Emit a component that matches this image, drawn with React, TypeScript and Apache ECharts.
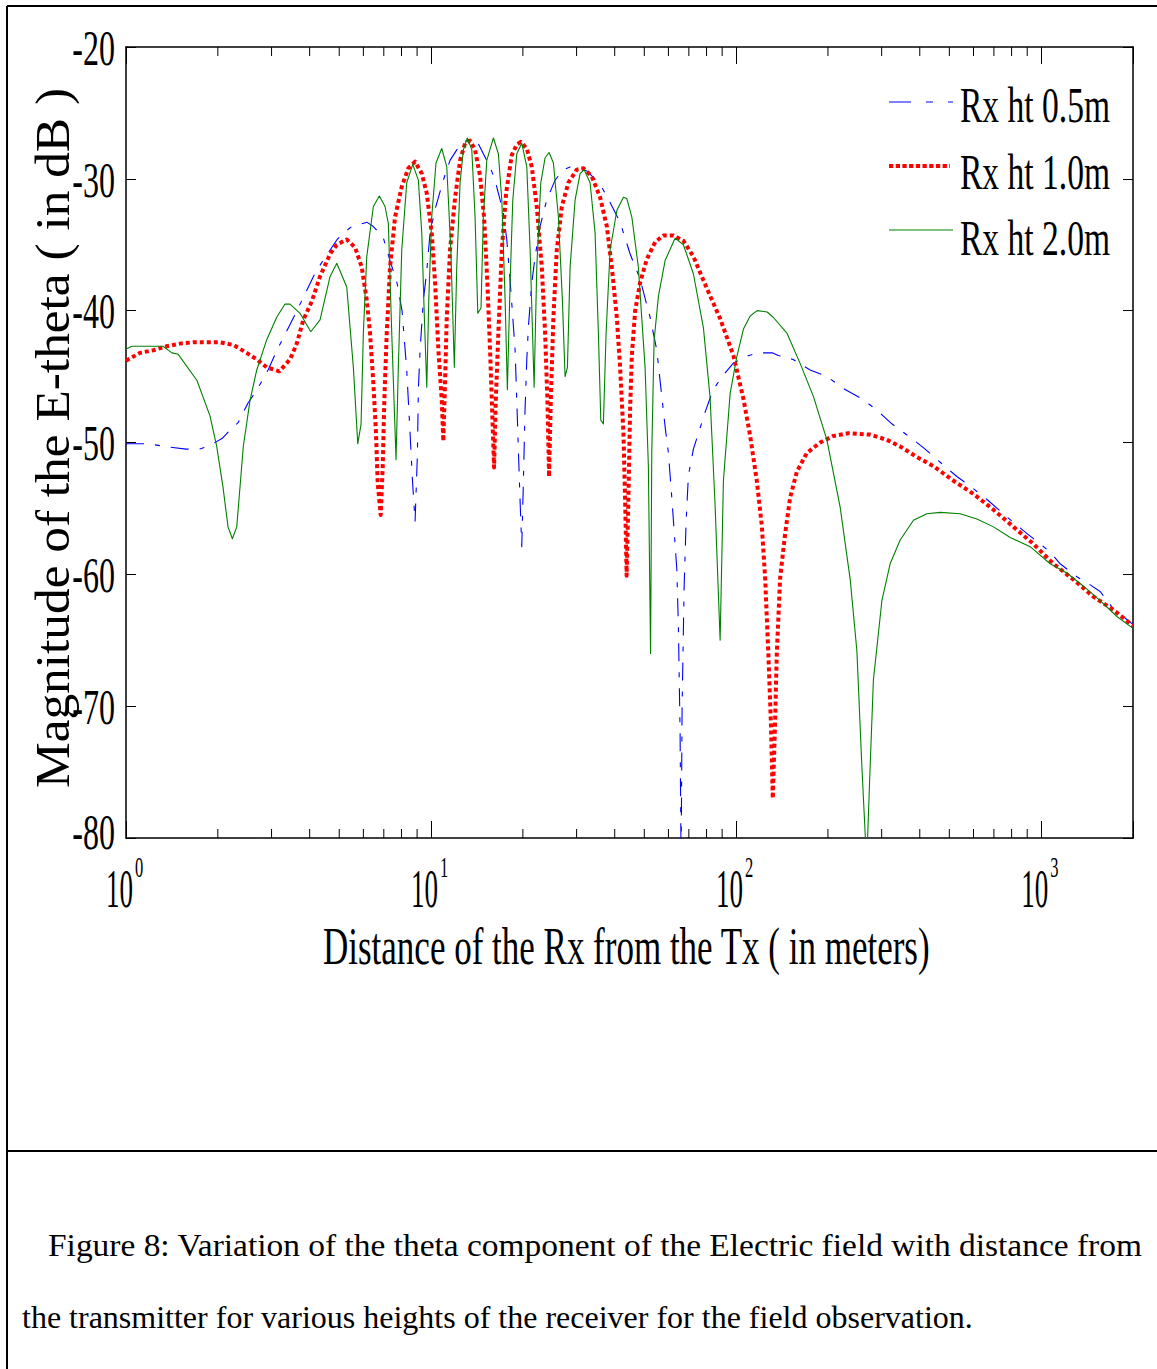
import React, { useEffect, useRef } from "react";
import * as echarts from "echarts";

// ---------- axis ranges & ticks ----------
const X_MIN = 1;
const X_MAX = 2000;
const Y_MIN = -80;
const Y_MAX = -20;
const yTickValues = [-20, -30, -40, -50, -60, -70, -80];
const xTickExponents = [0, 1, 2, 3];
const minorTickValues = [
  2, 3, 4, 5, 6, 7, 8, 9,
  20, 30, 40, 50, 60, 70, 80, 90,
  200, 300, 400, 500, 600, 700, 800, 900,
];

// ---------- texts ----------
const legendNames = ["Rx ht 0.5m", "Rx ht 1.0m", "Rx ht 2.0m"];
const xAxisTitle = "Distance of the Rx from the Tx ( in meters)";
const yAxisTitle = "Magnitude of the E-theta ( in dB )";
const captionLine1 =
  "Figure 8: Variation of the theta component of the Electric field with distance from";
const captionLine2 =
  "the transmitter for various heights of the receiver for the field observation.";

// ---------- series: [distance (m), magnitude (dB)] ----------
const rx05: number[][] = [
  [1, -50.1], [1.181, -50.1], [1.342, -50.3], [1.573, -50.5], [1.735, -50.5],
  [1.857, -50.3], [2.064, -49.7], [2.144, -49.3], [2.33, -48.5], [2.512, -47.0],
  [2.689, -46.0], [2.922, -44.5], [3.126, -43.0], [3.372, -41.5], [3.581, -40.3],
  [3.776, -39.2], [4.198, -37.0], [4.667, -35.4], [4.92, -34.6], [5.304, -33.9],
  [5.508, -33.6], [6.169, -33.3], [6.455, -33.6], [6.96, -34.4], [7.337, -36.2],
  [7.735, -37.9], [8.033, -40.0], [8.323, -44.5], [8.534, -49.3], [8.697, -53.0],
  [8.863, -56.0], [9.019, -51.0], [9.087, -46.0], [9.204, -43.0], [9.436, -39.2],
  [9.681, -37.0], [9.925, -34.1], [10.31, -32.3], [10.97, -30.1], [11.54, -28.6],
  [12.14, -27.8], [12.76, -27.2], [13.42, -27.0], [14.12, -27.1], [14.84, -28.1],
  [15.61, -29.1], [16.21, -30.1], [16.84, -31.6], [17.26, -32.6], [17.71, -34.6],
  [18.16, -37.7], [18.53, -40.5], [18.86, -43.0], [19.1, -46.8], [19.33, -50.6],
  [19.58, -54.4], [19.83, -57.9], [20.07, -53.1], [20.33, -47.5], [20.6, -43.7],
  [20.85, -41.2], [21.39, -37.9], [21.93, -35.9], [22.77, -33.6], [23.95, -31.6],
  [25.5, -30.1], [27.16, -29.3], [28.56, -29.1], [30.8, -29.2], [32.39, -29.4],
  [35.82, -30.4], [38.63, -31.8], [41.66, -33.3], [44.94, -35.7], [48.43, -37.6],
  [52.24, -40.5], [54.95, -43.0], [56.33, -45.3], [58.51, -48.8], [59.99, -50.8],
  [61.69, -54.5], [63.91, -59.6], [64.69, -64.0], [65.52, -72.0], [66.02, -82.0],
  [66.52, -70.0], [67.54, -61.0], [68.56, -56.0], [69.76, -52.5], [72.44, -50.5],
  [76.2, -48.9], [79.14, -47.7], [84.06, -46.0], [89.96, -45.0], [97.76, -44.0],
  [107.0, -43.5], [117.2, -43.2], [131.3, -43.2], [137.4, -43.4], [153.8, -43.7],
  [174.8, -44.5], [198.8, -45.0], [224.3, -45.9], [258.9, -46.7], [287.8, -47.5],
  [324.7, -48.6], [371.9, -49.6], [416.6, -50.5], [466.7, -51.5], [530.4, -52.6],
  [585.0, -53.3], [670.4, -54.4], [734.0, -55.2], [834.5, -56.3], [920.4, -57.1],
  [1070, -58.3], [1154, -59.2], [1313, -60.2], [1448, -60.8], [1561, -61.3],
  [1722, -62.6], [2000, -63.8],
];

const rx10: number[][] = [
  [1, -43.8], [1.112, -43.2], [1.229, -43.0], [1.36, -42.7], [1.503, -42.5],
  [1.658, -42.4], [1.839, -42.4], [2.033, -42.4], [2.248, -42.6], [2.487, -43.2],
  [2.683, -43.7], [2.893, -44.3], [3.181, -44.6], [3.449, -43.7], [3.628, -42.5],
  [3.814, -40.7], [4.064, -39.3], [4.326, -37.4], [4.667, -35.7], [4.909, -35.0],
  [5.292, -34.6], [5.635, -35.2], [5.927, -36.7], [6.155, -39.2], [6.31, -41.7],
  [6.469, -45.5], [6.6, -49.3], [6.685, -53.1], [6.84, -55.5], [6.944, -51.8],
  [7.028, -46.8], [7.157, -41.7], [7.337, -36.7], [7.619, -32.9], [8.015, -30.6],
  [8.424, -29.2], [8.863, -28.7], [9.322, -29.6], [9.681, -31.1], [10.05, -34.1],
  [10.31, -37.9], [10.57, -43.0], [10.84, -46.8], [10.97, -49.9], [11.11, -45.5],
  [11.26, -40.5], [11.54, -35.4], [11.99, -31.4], [12.45, -28.6], [12.93, -27.3],
  [13.42, -27.1], [13.94, -27.8], [14.48, -29.8], [14.92, -32.9], [15.3, -37.9],
  [15.61, -43.0], [15.89, -48.1], [16.09, -51.9], [16.3, -46.8], [16.62, -41.7],
  [17.06, -35.4], [17.62, -31.1], [18.39, -28.2], [19.1, -27.4], [19.68, -27.2],
  [20.6, -27.7], [21.39, -29.1], [22.21, -32.1], [23.07, -36.7], [23.65, -41.7],
  [24.07, -46.8], [24.37, -52.6], [24.69, -46.8], [25.18, -40.5], [25.83, -35.4],
  [26.83, -32.1], [28.19, -30.3], [30.04, -29.3], [31.57, -29.2], [33.64, -29.8],
  [35.82, -31.4], [37.68, -33.6], [39.13, -36.7], [40.64, -40.5], [41.66, -44.3],
  [42.72, -49.3], [43.27, -54.4], [43.76, -60.1], [44.36, -54.2], [44.94, -47.4],
  [45.52, -43.4], [46.67, -40.0], [48.43, -37.9], [50.95, -36.1], [54.26, -34.8],
  [57.76, -34.3], [62.3, -34.3], [67.18, -34.7], [72.44, -35.9], [80.15, -38.3],
  [88.63, -40.6], [97.98, -43.4], [105.7, -46.7], [111.2, -49.5], [116.9, -52.9],
  [121.4, -56.3], [124.5, -60.3], [127.6, -66.1], [130.0, -71.2], [131.9, -77.0],
  [134.2, -71.2], [135.9, -66.1], [139.4, -60.3], [144.8, -56.9], [150.3, -54.2],
  [158.2, -52.2], [170.5, -50.8], [188.6, -50.0], [208.5, -49.5], [233.0, -49.3],
  [275.0, -49.4], [312.0, -49.8], [345.0, -50.3], [391.3, -51.1], [443.7, -51.8],
  [515.8, -52.9], [599.8, -53.9], [697.8, -55.1], [811.5, -56.4], [943.5, -57.7],
  [1097, -59.2], [1276, -60.4], [1484, -61.7], [1726, -62.7], [2000, -63.9],
];

const rx20: number[][] = [
  [1, -42.9], [1.046, -42.7], [1.199, -42.7], [1.322, -42.7], [1.415, -43.2],
  [1.481, -43.3], [1.709, -45.3], [1.886, -48.0], [1.983, -50.3], [2.08, -53.4],
  [2.16, -56.4], [2.232, -57.3], [2.307, -56.4], [2.424, -50.3], [2.55, -46.8],
  [2.683, -44.5], [2.893, -42.2], [3.119, -40.5], [3.321, -39.5], [3.449, -39.5],
  [3.72, -40.2], [4.034, -41.6], [4.326, -40.7], [4.667, -37.4], [4.909, -36.4],
  [5.292, -38.2], [5.563, -44.3], [5.751, -50.1], [5.896, -48.6], [5.999, -41.7],
  [6.155, -35.9], [6.469, -32.1], [6.768, -31.3], [7.066, -32.1], [7.244, -33.4],
  [7.432, -41.7], [7.677, -51.3], [7.812, -44.3], [8.015, -35.4], [8.323, -30.3],
  [8.71, -28.9], [9.087, -30.1], [9.322, -34.1], [9.507, -40.5], [9.681, -45.8],
  [9.828, -39.2], [10.05, -32.9], [10.38, -28.8], [10.84, -27.7], [11.26, -29.1],
  [11.61, -35.4], [11.92, -44.3], [12.14, -36.7], [12.45, -30.3], [12.76, -27.8],
  [13.15, -26.9], [13.6, -27.8], [13.94, -32.9], [14.23, -40.2], [14.58, -39.8],
  [14.84, -32.9], [15.23, -28.6], [16.01, -26.9], [16.62, -28.1], [17.06, -31.6],
  [17.49, -39.2], [17.79, -46.0], [18.16, -37.9], [18.53, -31.6], [19.1, -28.1],
  [19.83, -27.3], [20.6, -29.1], [21.12, -35.4], [21.77, -45.8], [22.21, -36.7],
  [22.89, -30.3], [23.65, -28.4], [24.37, -28.0], [25.18, -28.8], [26.15, -32.9],
  [26.95, -39.2], [27.5, -45.0], [27.99, -44.3], [28.56, -36.7], [29.66, -31.6],
  [30.8, -29.6], [31.74, -29.3], [33.21, -30.3], [34.49, -34.1], [35.36, -41.7],
  [36.01, -48.3], [36.72, -48.6], [37.48, -41.7], [38.63, -35.4], [40.64, -32.4],
  [42.72, -31.4], [43.83, -31.5], [45.52, -32.9], [47.81, -36.7], [50.3, -44.3],
  [51.57, -51.8], [52.43, -66.0], [52.91, -50.8], [53.83, -42.3], [55.63, -38.9],
  [58.51, -36.2], [63.1, -34.5], [67.18, -35.0], [72.44, -37.2], [78.13, -41.3],
  [82.17, -46.6], [85.34, -54.8], [88.63, -65.0], [90.86, -52.9], [95.57, -46.3],
  [100.5, -43.5], [105.7, -41.4], [111.2, -40.4], [117.2, -40.0], [126.4, -40.1],
  [132.3, -40.5], [146.7, -41.7], [162.1, -44.0], [179.2, -46.5], [198.4, -49.8],
  [219.3, -54.9], [236.6, -60.4], [248.8, -65.8], [258.4, -74.6], [267.9, -82.0],
  [275.0, -74.6], [281.9, -68.0], [300.5, -62.0], [319.8, -59.2], [345.0, -57.4],
  [381.4, -55.9], [421.9, -55.4], [466.7, -55.3], [542.5, -55.4], [615.4, -55.8],
  [697.8, -56.4], [791.6, -57.2], [920.4, -57.9], [1070, -59.2], [1214, -59.9],
  [1376, -60.9], [1561, -62.0], [1771, -63.2], [2000, -64.1],
];

const BLUE = "#0000ff";
const RED = "#ff0000";
const GREEN = "#008000";
const BLUE_DASH = [18, 11, 5, 11];
const RED_DASH = [4, 3];
const FONT = "Liberation Serif";

export default function App() {
  const ref = useRef<HTMLDivElement>(null);

  useEffect(() => {
    const el = ref.current;
    if (!el) return;
    const chart = echarts.init(el, undefined, { renderer: "svg" });

    const canvas = document.createElement("canvas");
    const cx = canvas.getContext("2d")!;
    const measure = (t: string, size: number) => {
      cx.font = `${size}px "${FONT}"`;
      return cx.measureText(t).width;
    };

    const tickAxisX = (position: "bottom" | "top") => ({
      type: "log",
      logBase: 10,
      min: X_MIN,
      max: X_MAX,
      position,
      axisLine: { show: true, lineStyle: { color: "#000", width: 1.5 } },
      axisTick: { show: true, inside: true, length: 17, lineStyle: { color: "#000", width: 1 } },
      axisLabel: { show: false },
      splitLine: { show: false },
      minorTick: { show: false },
    });
    const tickAxisY = (position: "left" | "right") => ({
      type: "value",
      min: Y_MIN,
      max: Y_MAX,
      interval: 10,
      position,
      axisLine: { show: true, lineStyle: { color: "#000", width: 1.5 } },
      axisTick: { show: true, inside: true, length: 10, lineStyle: { color: "#000", width: 1 } },
      axisLabel: { show: false },
      splitLine: { show: false },
    });

    const lineSeries = (name: string, data: number[][], color: string, width: number, dash: any, z: number) => ({
      type: "line",
      name,
      data,
      symbol: "none",
      showSymbol: false,
      clip: true,
      silent: true,
      z,
      lineStyle: { color, width, type: dash, cap: "butt", join: "round" },
      itemStyle: { color },
    });

    chart.setOption({
      animation: false,
      backgroundColor: "#ffffff",
      grid: { left: 126, right: 24, top: 47, bottom: 531, containLabel: false },
      xAxis: [tickAxisX("bottom"), tickAxisX("top")],
      yAxis: [tickAxisY("left"), tickAxisY("right")],
      series: [
        lineSeries(legendNames[0], rx05, BLUE, 1.1, BLUE_DASH, 2),
        lineSeries(legendNames[1], rx10, RED, 4, RED_DASH, 3),
        lineSeries(legendNames[2], rx20, GREEN, 1.1, "solid", 4),
        {
          type: "custom",
          coordinateSystem: "cartesian2d",
          silent: true,
          z: 5,
          data: minorTickValues.map((v) => [v, Y_MIN]),
          renderItem: (_p: any, api: any) => {
            const v = api.value(0);
            const b = api.coord([v, Y_MIN]);
            const t = api.coord([v, Y_MAX]);
            return {
              type: "group",
              children: [
                { type: "line", shape: { x1: b[0], y1: b[1], x2: b[0], y2: b[1] - 9 }, style: { stroke: "#000", lineWidth: 1 } },
                { type: "line", shape: { x1: t[0], y1: t[1], x2: t[0], y2: t[1] + 9 }, style: { stroke: "#000", lineWidth: 1 } },
              ],
            };
          },
        },
      ],
    });

    const px = (v: number) => chart.convertToPixel({ xAxisIndex: 0 }, v) as unknown as number;
    const py = (v: number) => chart.convertToPixel({ yAxisIndex: 0 }, v) as unknown as number;

    const g: any[] = [];
    const black = "#000";

    // outer frame of the figure box
    g.push({ type: "line", shape: { x1: 7, y1: 6, x2: 1157, y2: 6 }, style: { stroke: black, lineWidth: 2 } });
    g.push({ type: "line", shape: { x1: 7, y1: 6, x2: 7, y2: 1369 }, style: { stroke: black, lineWidth: 2 } });
    g.push({ type: "line", shape: { x1: 7, y1: 1151, x2: 1157, y2: 1151 }, style: { stroke: black, lineWidth: 2 } });

    // y tick labels (condensed serif)
    yTickValues.forEach((v) => {
      const y = Math.min(py(v) + 1, 832);
      g.push({
        type: "text",
        x: 115,
        y,
        scaleX: 0.64,
        silent: true,
        style: { text: String(v), fontSize: 50, fontFamily: FONT, fill: black, align: "right", verticalAlign: "middle" },
      });
    });

    // x tick labels 10^n : base "10" and superscript exponent
    xTickExponents.forEach((e) => {
      const x = px(Math.pow(10, e));
      g.push({
        type: "text",
        x: x + 7,
        y: 889,
        scaleX: 0.5,
        silent: true,
        style: { text: "10", fontSize: 54, fontFamily: FONT, fill: black, align: "right", verticalAlign: "middle" },
      });
      g.push({
        type: "text",
        x: x + 9,
        y: 866,
        scaleX: 0.55,
        silent: true,
        style: { text: String(e), fontSize: 30, fontFamily: FONT, fill: black, align: "left", verticalAlign: "middle" },
      });
    });

    // stretched single-line text helper (left..right span, baseline)
    const fitText = (text: string, left: number, right: number, baseline: number, size: number) => {
      const w = measure(text, size);
      return {
        type: "text",
        x: left,
        y: baseline - 0.33 * size,
        scaleX: (right - left) / w,
        silent: true,
        style: { text, fontSize: size, fontFamily: FONT, fill: black, align: "left", verticalAlign: "middle" },
      };
    };

    // x axis title
    g.push(fitText(xAxisTitle, 323, 930, 964, 52));

    // y axis title (rotated, reading bottom-to-top)
    {
      const size = 48;
      const w = measure(yAxisTitle, size);
      g.push({
        type: "text",
        x: 53,
        y: 438,
        rotation: Math.PI / 2,
        scaleX: (788 - 88) / w,
        silent: true,
        style: { text: yAxisTitle, fontSize: size, fontFamily: FONT, fill: black, align: "center", verticalAlign: "middle" },
      });
    }

    // legend
    const legendRows = [
      { y: 102, x2: 953, color: BLUE, width: 1.1, dash: [22, 15, 7, 15], base: 121 },
      { y: 166, x2: 950, color: RED, width: 4, dash: [4.3, 2.4], base: 188 },
      { y: 230, x2: 953, color: GREEN, width: 1.1, dash: null, base: 254 },
    ];
    legendRows.forEach((r, i) => {
      g.push({
        type: "line",
        shape: { x1: 889, y1: r.y, x2: r.x2, y2: r.y },
        style: { stroke: r.color, lineWidth: r.width, lineDash: r.dash || undefined, lineCap: "butt" },
      });
      g.push(fitText(legendNames[i], 960, 1110, r.base, 50));
    });

    // caption
    g.push(fitText(captionLine1, 48, 1143, 1256, 32));
    {
      const size = 32;
      g.push({
        type: "text",
        x: 22,
        y: 1328 - 0.33 * size,
        silent: true,
        style: { text: captionLine2, fontSize: size, fontFamily: FONT, fill: black, align: "left", verticalAlign: "middle" },
      });
    }

    chart.setOption({ graphic: g });

    return () => chart.dispose();
  }, []);

  return (
    <div
      ref={ref}
      style={{ position: "absolute", left: 0, top: 0, width: 1157, height: 1369, background: "#fff" }}
    />
  );
}
